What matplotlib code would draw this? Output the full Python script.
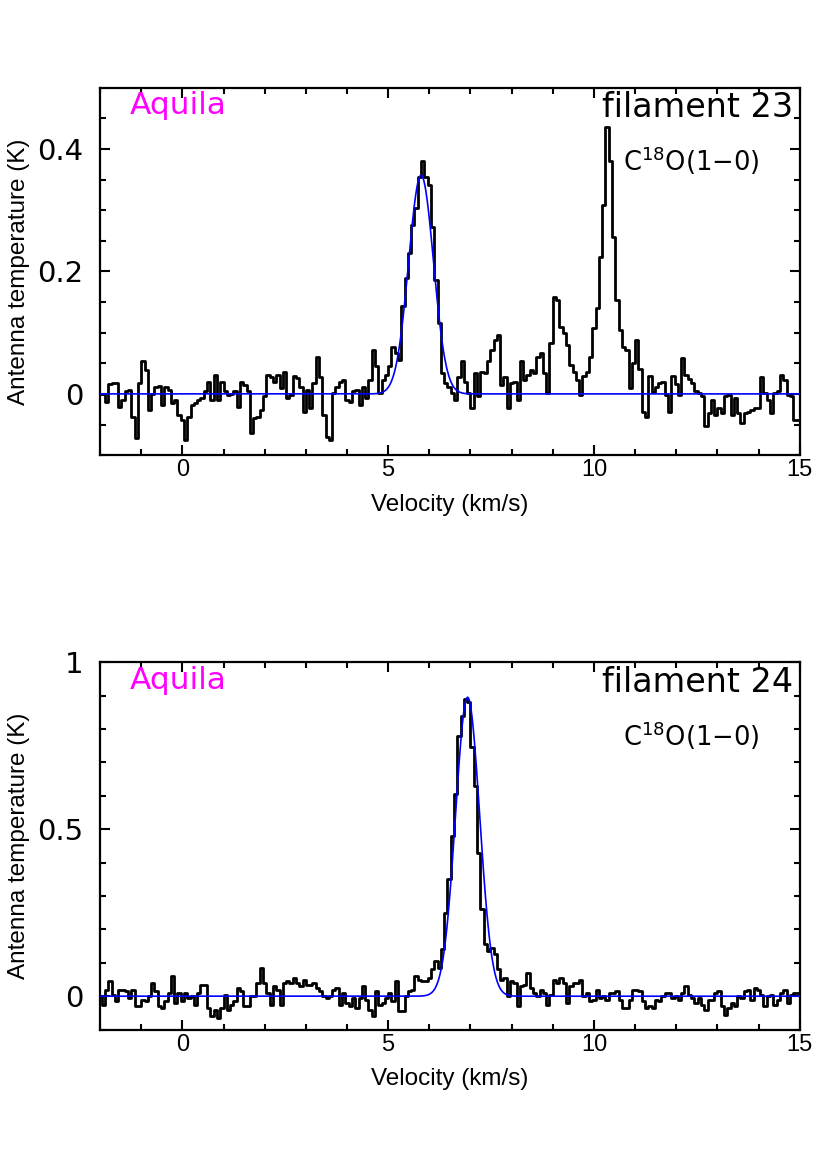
import numpy as np
import matplotlib
matplotlib.use("Agg")
import matplotlib.pyplot as plt
from matplotlib.ticker import MultipleLocator, FuncFormatter

# channel grid (km/s)
v_start = -2.0
dv = 0.08

# filament 23, C18O(1-0) antenna temperature (K)
t23 = [
    0.0, 0.0, -0.014, 0.016, 0.017, 0.017, -0.021, -0.01, 0.005, 0.007,
    -0.037, -0.072, 0.017, 0.054, 0.039, -0.026, 0.0, 0.012, 0.013, -0.018,
    0.012, 0.007, -0.015, -0.01, -0.034, -0.042, -0.075, -0.037, -0.018, -0.015,
    -0.01, -0.007, 0.004, 0.02, -0.01, 0.031, -0.01, 0.02, 0.004, -0.002,
    0.0, 0.004, -0.021, 0.02, 0.015, 0.004, -0.064, -0.04, -0.037, -0.026,
    -0.004, 0.031, 0.028, 0.02, 0.031, 0.009, 0.035, -0.007, -0.002, 0.029,
    0.026, 0.012, -0.029, 0.007, -0.023, 0.017, 0.061, 0.028, -0.035, -0.07,
    -0.075, 0.001, 0.012, 0.02, 0.023, -0.01, -0.013, 0.004, 0.007, -0.018,
    0.012, -0.007, 0.023, 0.072, 0.045, 0.001, 0.023, 0.031, 0.045, 0.077,
    0.066, 0.055, 0.143, 0.189, 0.23, 0.276, 0.303, 0.355, 0.38, 0.355,
    0.341, 0.273, 0.186, 0.115, 0.034, 0.017, 0.012, 0.001, -0.01, 0.028,
    0.053, 0.02, 0.001, -0.023, 0.034, -0.004, 0.036, 0.034, 0.053, 0.072,
    0.088, 0.096, 0.015, 0.028, -0.023, 0.017, 0.02, -0.01, 0.053, 0.023,
    0.031, 0.039, 0.034, 0.061, 0.066, 0.034, 0.001, 0.083, 0.159, 0.153,
    0.11, 0.099, 0.08, 0.047, 0.035, 0.022, -0.002, 0.03, 0.035, 0.06,
    0.107, 0.14, 0.224, 0.308, 0.436, 0.38, 0.257, 0.153, 0.104, 0.077,
    0.071, 0.009, 0.05, 0.088, 0.04, -0.03, -0.037, 0.03, 0.003, 0.012,
    0.018, 0.02, -0.002, -0.03, 0.03, 0.016, -0.002, 0.058, 0.031, 0.025,
    0.017, 0.004, 0.001, -0.004, -0.053, -0.032, -0.01, -0.034, -0.023, -0.032,
    -0.004, -0.002, -0.034, -0.007, -0.032, -0.048, -0.032, -0.029, -0.026, -0.023,
    -0.023, 0.028, 0.001, -0.01, -0.032, 0.001, 0.004, 0.031, 0.023, -0.002,
    -0.004, -0.042, -0.042,
]

# filament 24, C18O(1-0) antenna temperature (K)
t24 = [
    0.0, -0.025, 0.02, 0.045, 0.005, -0.015, 0.02, 0.018, 0.015, -0.005,
    0.02, -0.03, -0.03, -0.01, -0.015, 0.0, 0.04, 0.015, -0.03, -0.035,
    -0.015, 0.01, 0.06, -0.02, 0.01, -0.015, 0.01, -0.005, 0.0, -0.025,
    0.01, 0.035, 0.035, -0.035, -0.06, -0.04, -0.065, -0.035, 0.005, -0.04,
    -0.025, -0.015, 0.025, 0.015, -0.03, -0.03, 0.0, 0.0, 0.04, 0.085,
    0.04, 0.01, -0.025, 0.03, 0.02, -0.025, 0.04, 0.045, 0.04, 0.055,
    0.04, 0.03, 0.05, 0.035, 0.035, 0.04, 0.025, 0.015, 0.0, -0.005,
    0.0, 0.02, 0.025, -0.025, 0.01, -0.02, -0.03, -0.005, -0.035, -0.005,
    0.03, -0.01, -0.04, -0.06, 0.015, -0.025, -0.02, -0.005, 0.01, -0.015,
    0.045, -0.045, -0.045, 0.0, 0.015, 0.02, 0.06, 0.05, 0.045, 0.045,
    0.055, 0.08, 0.105, 0.085, 0.14, 0.25, 0.35, 0.48, 0.605, 0.78,
    0.84, 0.89, 0.88, 0.745, 0.63, 0.43, 0.26, 0.155, 0.135, 0.145,
    0.125, 0.08, 0.05, 0.055, 0.0, 0.045, 0.04, -0.03, 0.03, 0.035,
    0.07, 0.025, 0.01, 0.0, 0.02, 0.01, -0.025, 0.005, 0.05, 0.04,
    0.055, 0.04, -0.02, 0.03, 0.04, 0.04, 0.05, 0.0, 0.01, -0.015,
    -0.01, 0.02, -0.005, 0.0, -0.01, 0.01, 0.01, 0.015, -0.01, -0.035,
    -0.035, -0.01, 0.02, 0.02, 0.015, -0.015, -0.035, -0.03, -0.035, -0.01,
    -0.015, 0.0, 0.01, 0.01, -0.005, 0.0, -0.01, 0.01, 0.03, 0.005,
    -0.005, -0.02, -0.005, -0.025, -0.04, -0.01, -0.01, 0.01, 0.015, -0.03,
    -0.055, -0.035, -0.02, -0.03, 0.0, -0.005, 0.015, 0.02, -0.01, 0.025,
    0.02, 0.005, -0.03, 0.0, 0.005, -0.025, -0.01, 0.01, 0.02, -0.02,
    0.005, 0.01, 0.01,
]

# gaussian fits: amplitude (K), centre (km/s), FWHM (km/s)
fit23 = (0.357, 5.80, 0.71)
fit24 = (0.895, 6.93, 0.69)

panels = [
    ("filament 23", t23, fit23, [0, 0.2, 0.4], 0.05, (-0.1, 0.5), [0.121, 0.611, 0.846, 0.314]),
    ("filament 24", t24, fit24, [0, 0.5, 1.0], 0.1, (-0.1, 1.0), [0.121, 0.120, 0.846, 0.314]),
]

thin = "DejaVu Sans"
fig = plt.figure(figsize=(8.27, 11.70), dpi=100)

for name, temp, fit, yticks, yminor, ylim, rect in panels:
    ax = fig.add_axes(rect)
    temp = np.array(temp)
    vel = v_start + dv * np.arange(len(temp))
    ax.step(vel, temp, where="mid", color="black", lw=2.0, zorder=3)

    amp, v0, fwhm = fit
    sig = fwhm / 2.3548
    vf = np.linspace(-2, 15, 1500)
    ax.plot(vf, amp * np.exp(-0.5 * ((vf - v0) / sig) ** 2), color="#0000ff", lw=1.2, zorder=4)

    ax.set_xlim(-2, 15)
    ax.set_ylim(*ylim)
    ax.xaxis.set_major_locator(MultipleLocator(5))
    ax.xaxis.set_minor_locator(MultipleLocator(1))
    ax.set_yticks(yticks)
    ax.yaxis.set_minor_locator(MultipleLocator(yminor))
    ax.yaxis.set_major_formatter(FuncFormatter(lambda y, p: "%g" % y))
    ax.tick_params(which="both", direction="in", top=True, right=True, width=1.5)
    ax.tick_params(which="major", length=7)
    ax.tick_params(which="minor", length=4)
    ax.tick_params(axis="x", pad=3)
    ax.tick_params(axis="y", pad=12)
    for s in ax.spines.values():
        s.set_linewidth(1.6)
    for lab in ax.get_xticklabels():
        lab.set_fontfamily("Liberation Sans")
        lab.set_fontsize(17)
    for lab in ax.get_yticklabels():
        lab.set_fontfamily(thin)
        lab.set_fontsize(21)
        lab.set_color("black")

    ax.set_xlabel("Velocity (km/s)", family="Liberation Sans", fontsize=17.5, labelpad=9)
    ax.set_ylabel("Antenna temperature (K)", family="Liberation Sans", fontsize=17.5, labelpad=5)

    ax.text(0.043, 0.99, "Aquila", transform=ax.transAxes, color="#ff00ff",
            family=thin, fontsize=22.5, ha="left", va="top")
    ax.text(0.99, 0.99, name, transform=ax.transAxes, color="black",
            family=thin, fontsize=24, ha="right", va="top")
    ax.text(0.943, 0.80, r"C$^{18}$O(1$-$0)", transform=ax.transAxes, color="black",
            family=thin, fontsize=18.5, ha="right", va="center")

fig.savefig("out.png", dpi=100)
